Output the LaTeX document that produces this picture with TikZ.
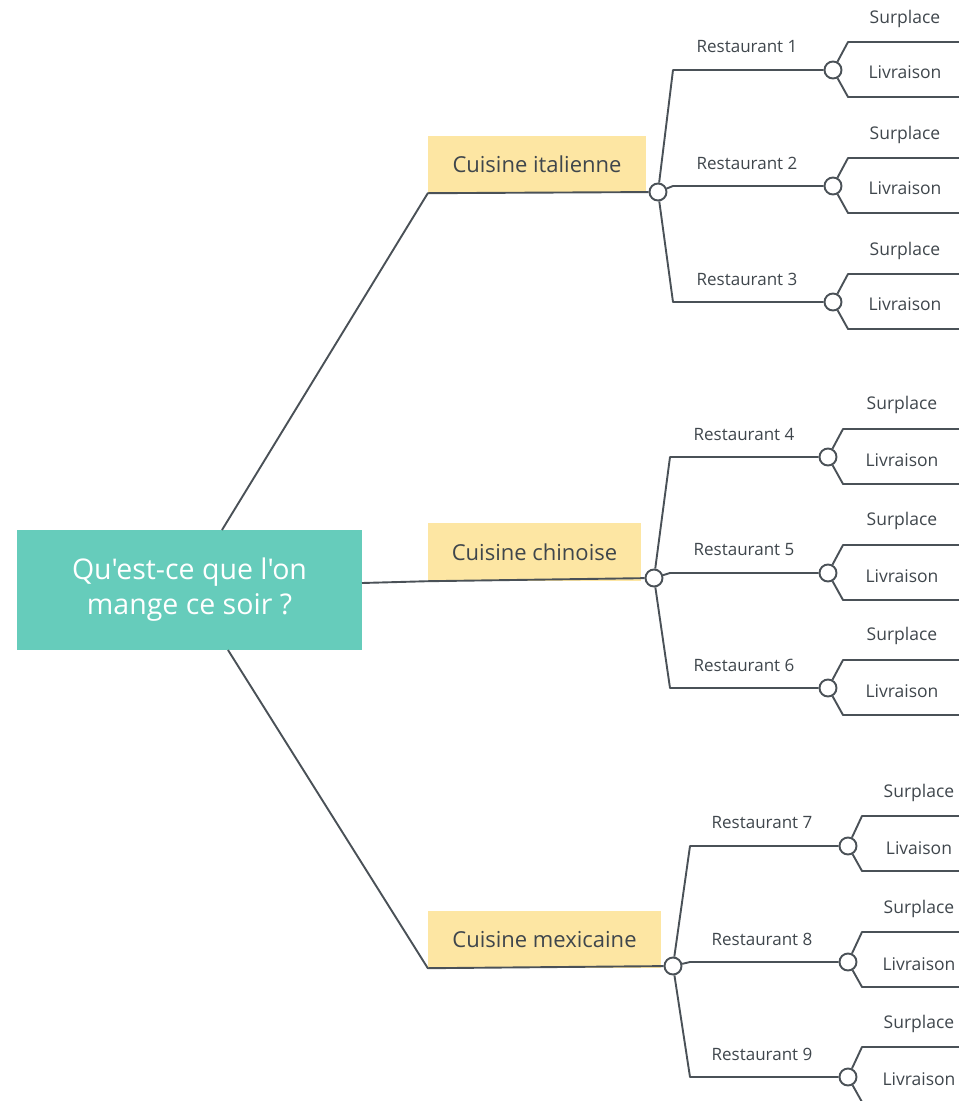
\documentclass[tikz,border=0pt]{standalone}
\usepackage{fontspec}
\setmainfont{Open Sans}
\newfontfamily\plainfont{Open Sans}
\definecolor{ln}{HTML}{4A5157}
\definecolor{txt}{HTML}{3F464C}
\definecolor{teal}{HTML}{66CCBB}
\definecolor{ylw}{HTML}{FDE6A3}
\tikzset{
  conn/.style={draw=ln, line width=1.9pt, line join=round},
  dot/.style={circle, draw=ln, fill=white, line width=1.9pt, minimum size=17pt, inner sep=0pt},
  rlab/.style={text=txt, font=\fontsize{17}{20}\selectfont, inner sep=0pt},
  leaf/.style={text=txt, font=\fontsize{17.5}{20}\selectfont, inner sep=0pt},
  cat/.style={fill=ylw, text=txt, font=\fontsize{22}{26}\selectfont, inner sep=0pt},
  rootbox/.style={fill=teal, text=white, font=\plainfont\fontsize{28.5}{35}\selectfont, align=center, minimum width=345pt, minimum height=120pt, inner sep=0pt}
}
\begin{document}
\begin{tikzpicture}[x=1pt,y=-1pt]
\useasboundingbox (0,0) rectangle (959,1101);
% root
\node[rootbox] (root) at (189.5,590) {Qu'est-ce que l'on\\mange ce soir ?};
\coordinate (rt) at (222,530);
\coordinate (rm) at (362,583);
\coordinate (rb) at (228,650);
% categories
\node[cat, minimum width=218pt, minimum height=57pt] (cat1) at (537,164.5) {Cuisine italienne};
\node[cat, minimum width=213pt, minimum height=58pt] (cat2) at (534.5,552) {Cuisine chinoise};
\node[cat, minimum width=233pt, minimum height=57pt] (cat3) at (544.5,939.5) {Cuisine mexicaine};
\node[dot] (k1) at (658,192) {};
\node[dot] (k2) at (654,578) {};
\node[dot] (k3) at (673,966) {};
\draw[conn] (rt) -- (cat1.south west) -- (k1);
\draw[conn] (rm) -- (cat2.south west) -- (k2);
\draw[conn] (rb) -- (cat3.south west) -- (k3);
% group 1
\foreach \n/\y/\lv in {1/70/Livraison, 2/186/Livraison, 3/302/Livraison} {
  \node[dot] (d\n) at (833,\y) {};
  \coordinate (b\n) at (673,\y);
  \draw[conn] (k1) -- (b\n) -- (d\n);
  \node[rlab] (t\n) at (747,{\y-23}) {Restaurant \n};
  \coordinate (ua\n) at (848,{\y-28});
  \coordinate (ub\n) at (959,{\y-28});
  \coordinate (la\n) at (848,{\y+27});
  \coordinate (lb\n) at (959,{\y+27});
  \draw[conn] (d\n) -- (ua\n) -- (ub\n);
  \draw[conn] (d\n) -- (la\n) -- (lb\n);
  \node[leaf] (s\n) at (905,{\y-51}) {Surplace};
  \node[leaf] (l\n) at (905,{\y+2}) {\lv};
}
% group 2
\foreach \n/\y/\lv in {4/457/Livraison, 5/573/Livraison, 6/688/Livraison} {
  \node[dot] (d\n) at (828,\y) {};
  \coordinate (b\n) at (670,\y);
  \draw[conn] (k2) -- (b\n) -- (d\n);
  \node[rlab] (t\n) at (744,{\y-23}) {Restaurant \n};
  \coordinate (ua\n) at (843,{\y-28});
  \coordinate (ub\n) at (959,{\y-28});
  \coordinate (la\n) at (843,{\y+27});
  \coordinate (lb\n) at (959,{\y+27});
  \draw[conn] (d\n) -- (ua\n) -- (ub\n);
  \draw[conn] (d\n) -- (la\n) -- (lb\n);
  \node[leaf] (s\n) at (902,{\y-52}) {Surplace};
  \node[leaf] (l\n) at (902,{\y+3}) {\lv};
}
% group 3
\foreach \n/\y/\lv in {7/846/Livaison, 8/962/Livraison, 9/1077/Livraison} {
  \node[dot] (d\n) at (848,\y) {};
  \coordinate (b\n) at (690,\y);
  \draw[conn] (k3) -- (b\n) -- (d\n);
  \node[rlab] (t\n) at (762,{\y-23}) {Restaurant \n};
  \coordinate (ua\n) at (862,{\y-30});
  \coordinate (ub\n) at (959,{\y-30});
  \coordinate (la\n) at (862,{\y+25});
  \coordinate (lb\n) at (959,{\y+25});
  \draw[conn] (d\n) -- (ua\n) -- (ub\n);
  \draw[conn] (d\n) -- (la\n) -- (lb\n);
  \node[leaf] (s\n) at (919,{\y-53}) {Surplace};
  \node[leaf] (l\n) at (919,{\y+2}) {\lv};
}
\end{tikzpicture}
\end{document}
